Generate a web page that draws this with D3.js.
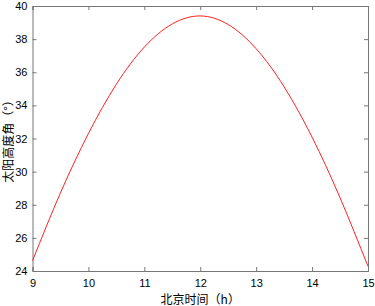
<!DOCTYPE html>
<html lang="zh">
<head>
  <meta charset="UTF-8">
  <title>太阳高度角</title>
  <script src="https://d3js.org/d3.v7.min.js"></script>
  <style>
    body { margin: 0; background: #fff; }
    text { font-family: "Liberation Sans", Arial, sans-serif; font-size: 11px; fill: #000; }
    .axis-label { font-family: "Noto Sans CJK SC", "Liberation Sans", sans-serif; font-size: 12px; }
  </style>
</head>
<body>
  <div id="chart"></div>
  <script>
    // 北京时间 (h) and 太阳高度角 (°)
    const hours = [9, 9.5, 10, 10.5, 11, 11.5, 12, 12.5, 13, 13.5, 14, 14.5, 15];
    const altitude = [24.62, 28.72, 32.3, 35.28, 37.52, 38.92, 39.4, 38.88, 37.42, 35.12, 32.08, 28.42, 24.28];
    const xTicks = [9, 10, 11, 12, 13, 14, 15];
    const yTicks = [24, 26, 28, 30, 32, 34, 36, 38, 40];

    const dataset = hours.map((h, i) => ({ h, v: altitude[i] }));

    const margin = { top: 6, right: 7, bottom: 35, left: 32.5 };
    const W = 375, H = 306;
    const width = W - margin.left - margin.right;
    const height = H - margin.top - margin.bottom;

    const svg = d3.select("#chart")
      .append("svg")
      .attr("width", W)
      .attr("height", H);

    const g = svg.append("g")
      .attr("transform", `translate(${margin.left}, ${margin.top})`);

    const x = d3.scaleLinear().domain([9, 15]).range([0, width]);
    const y = d3.scaleLinear().domain([24, 40]).range([height, 0]);

    const axisColor = "#777";

    // bottom and left axes with labels, ticks pointing inward
    const axBottom = g.append("g")
      .attr("transform", `translate(0, ${height})`)
      .call(d3.axisBottom(x).tickValues(xTicks).tickSize(-4).tickPadding(8).tickFormat(d3.format("d")));
    const axLeft = g.append("g")
      .call(d3.axisLeft(y).tickValues(yTicks).tickSize(-4).tickPadding(5).tickFormat(d3.format("d")));
    // mirrored top and right axes without labels
    const axTop = g.append("g")
      .call(d3.axisTop(x).tickValues(xTicks).tickSize(-4).tickFormat(""));
    const axRight = g.append("g")
      .attr("transform", `translate(${width}, 0)`)
      .call(d3.axisRight(y).tickValues(yTicks).tickSize(-4).tickFormat(""));

    [axBottom, axLeft, axTop, axRight].forEach(a => {
      a.selectAll("path, line").attr("stroke", axisColor);
      a.selectAll("text").attr("font-size", 11).attr("fill", "#000")
        .attr("font-family", "Liberation Sans, Arial, sans-serif");
    });

    const line = d3.line()
      .x(d => x(d.h))
      .y(d => y(d.v))
      .curve(d3.curveNatural);

    g.append("path")
      .datum(dataset)
      .attr("fill", "none")
      .attr("stroke", "#ff2020")
      .attr("stroke-width", 1)
      .attr("d", line);

    svg.append("text")
      .attr("class", "axis-label")
      .attr("x", margin.left + width / 2)
      .attr("y", 304)
      .attr("text-anchor", "middle")
      .text("北京时间（h）");

    svg.append("text")
      .attr("class", "axis-label")
      .attr("transform", `translate(13, ${margin.top + height / 2}) rotate(-90)`)
      .attr("text-anchor", "middle")
      .text("太阳高度角（°）");
  </script>
</body>
</html>
